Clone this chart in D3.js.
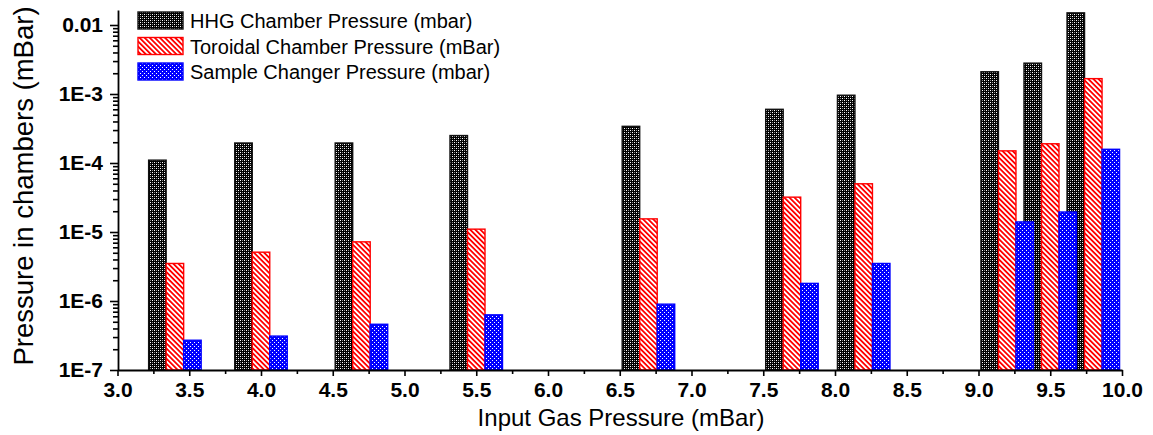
<!DOCTYPE html>
<html>
<head>
<meta charset="utf-8">
<script src="https://cdn.jsdelivr.net/npm/d3@7"></script>
<style>
  body { margin: 0; background: #fff; }
  svg { font-family: "Liberation Sans", Arial, sans-serif; }
  .tick line { stroke: #000; stroke-width: 1.6; }
  .domain { stroke: #000; stroke-width: 1.8; }
</style>
</head>
<body>
<script>
//chart values
var gasPressure = [3.4, 4.0, 4.7, 5.5, 6.7, 7.7, 8.2, 9.2, 9.5, 9.8];
var hhgPressure = [1.1e-4, 1.95e-4, 1.95e-4, 2.5e-4, 3.4e-4, 6.0e-4, 9.6e-4, 2.1e-3, 2.8e-3, 1.5e-2];
var toroidalPressure = [3.5e-6, 5.1e-6, 7.2e-6, 1.1e-5, 1.55e-5, 3.2e-5, 5.0e-5, 1.5e-4, 1.9e-4, 1.67e-3];
var samplePressure = [2.7e-7, 3.1e-7, 4.6e-7, 6.3e-7, 9.0e-7, 1.8e-6, 3.5e-6, 1.4e-5, 1.95e-5, 1.58e-4];
var seriesNames = ["HHG Chamber Pressure (mbar)", "Toroidal Chamber Pressure (mBar)", "Sample Changer Pressure (mbar)"];
var xTickValues = [3.0, 3.5, 4.0, 4.5, 5.0, 5.5, 6.0, 6.5, 7.0, 7.5, 8.0, 8.5, 9.0, 9.5, 10.0];
var yTickValues = [1e-7, 1e-6, 1e-5, 1e-4, 1e-3, 1e-2];
var yTickLabels = ["1E-7", "1E-6", "1E-5", "1E-4", "1E-3", "0.01"];

(function(){
    var width = 1153, height = 435;
    var barWidth = 0.122; //in x units

    var svg = d3.select("body").append("svg")
        .attr("width", width)
        .attr("height", height);

    var x = d3.scaleLinear().domain([3, 10]).range([117.5, 1122]);
    var y = d3.scaleLog().domain([1e-7, 0.0165]).range([370, 10]);

    //fill patterns
    var defs = svg.append("defs");
    function dotPattern(id, bg, dots){
        var p = defs.append("pattern").attr("id", id)
            .attr("patternUnits", "userSpaceOnUse")
            .attr("width", 4).attr("height", 4);
        p.append("rect").attr("width", 4).attr("height", 4).attr("fill", bg);
        dots.forEach(function(d){
            p.append("rect").attr("x", d[0]).attr("y", d[1])
                .attr("width", 1).attr("height", 1).attr("fill", d[2]);
        });
    }
    dotPattern("pHHG", "#000", [[0, 0, "#fff"], [2, 2, "#fff"], [0, 2, "#8a8a8a"], [2, 0, "#8a8a8a"]]);
    dotPattern("pSample", "#0000ff", [[0, 0, "#fff"], [2, 2, "#fff"]]);
    var hatch = defs.append("pattern").attr("id", "pToroidal")
        .attr("patternUnits", "userSpaceOnUse")
        .attr("width", 3.6).attr("height", 3.6)
        .attr("patternTransform", "rotate(-45)");
    hatch.append("rect").attr("width", 3.6).attr("height", 3.6).attr("fill", "#fff");
    hatch.append("rect").attr("x", 0).attr("y", 0).attr("width", 1.8).attr("height", 3.6).attr("fill", "#ff0000");

    var fills = ["url(#pHHG)", "url(#pToroidal)", "url(#pSample)"];
    var strokes = ["#111", "#ff0000", "#0000ff"];
    var seriesValues = [hhgPressure, toroidalPressure, samplePressure];

    //bars, drawn series by series
    var bw = x(3 + barWidth) - x(3);
    seriesValues.forEach(function(vals, s){
        svg.append("g").selectAll("rect")
            .data(vals)
            .enter()
            .append("rect")
            .attr("x", function(d, i){ return x(gasPressure[i] + (s - 1) * barWidth) - bw / 2; })
            .attr("y", function(d){ return y(d); })
            .attr("width", bw)
            .attr("height", function(d){ return y(1e-7) - y(d); })
            .attr("fill", fills[s])
            .attr("stroke", strokes[s])
            .attr("stroke-width", 1.4);
    });

    //x axis with minor ticks
    svg.append("g")
        .attr("transform", "translate(0,370)")
        .call(d3.axisBottom(x).tickValues(d3.range(3.25, 10, 0.5)).tickSize(4).tickFormat(""))
        .select(".domain").remove();
    var xAxis = svg.append("g")
        .attr("transform", "translate(0,370)")
        .call(d3.axisBottom(x).tickValues(xTickValues).tickSize(6).tickSizeOuter(0).tickPadding(6)
            .tickFormat(d3.format(".1f")));
    xAxis.selectAll("text")
        .attr("font-size", 21).attr("font-weight", "bold").attr("fill", "#000")
        .attr("font-family", "Liberation Sans, Arial, sans-serif");

    //y axis minor ticks
    var minor = [];
    for (var e = -7; e <= -2; e++){
        for (var m = 2; m <= 9; m++){
            var v = m * Math.pow(10, e);
            if (v < y.domain()[1]) minor.push(v);
        }
    }
    svg.append("g")
        .attr("transform", "translate(118,0)")
        .call(d3.axisLeft(y).tickValues(minor).tickSize(5).tickFormat(""))
        .select(".domain").remove();
    var yAxis = svg.append("g")
        .attr("transform", "translate(118,0)")
        .call(d3.axisLeft(y).tickValues(yTickValues).tickSize(8).tickSizeOuter(0).tickPadding(7)
            .tickFormat(function(d, i){ return yTickLabels[i]; }));
    yAxis.selectAll("text")
        .attr("font-size", 21).attr("font-weight", "bold").attr("fill", "#000")
        .attr("font-family", "Liberation Sans, Arial, sans-serif");

    //axis titles
    svg.append("text")
        .attr("x", 621).attr("y", 426)
        .attr("text-anchor", "middle")
        .attr("font-size", 24)
        .text("Input Gas Pressure (mBar)");
    svg.append("text")
        .attr("transform", "translate(33,186) rotate(-90)")
        .attr("text-anchor", "middle")
        .attr("font-size", 27.5)
        .text("Pressure in chambers (mBar)");

    //legend
    var legend = svg.append("g").attr("transform", "translate(138,12)");
    seriesNames.forEach(function(name, s){
        var g = legend.append("g").attr("transform", "translate(0," + (s * 25.5) + ")");
        g.append("rect")
            .attr("width", 45).attr("height", 17)
            .attr("fill", fills[s])
            .attr("stroke", strokes[s])
            .attr("stroke-width", 1.4);
        g.append("text")
            .attr("x", 52).attr("y", 16)
            .attr("font-size", 20)
            .text(name);
    });
})();
</script>
</body>
</html>
